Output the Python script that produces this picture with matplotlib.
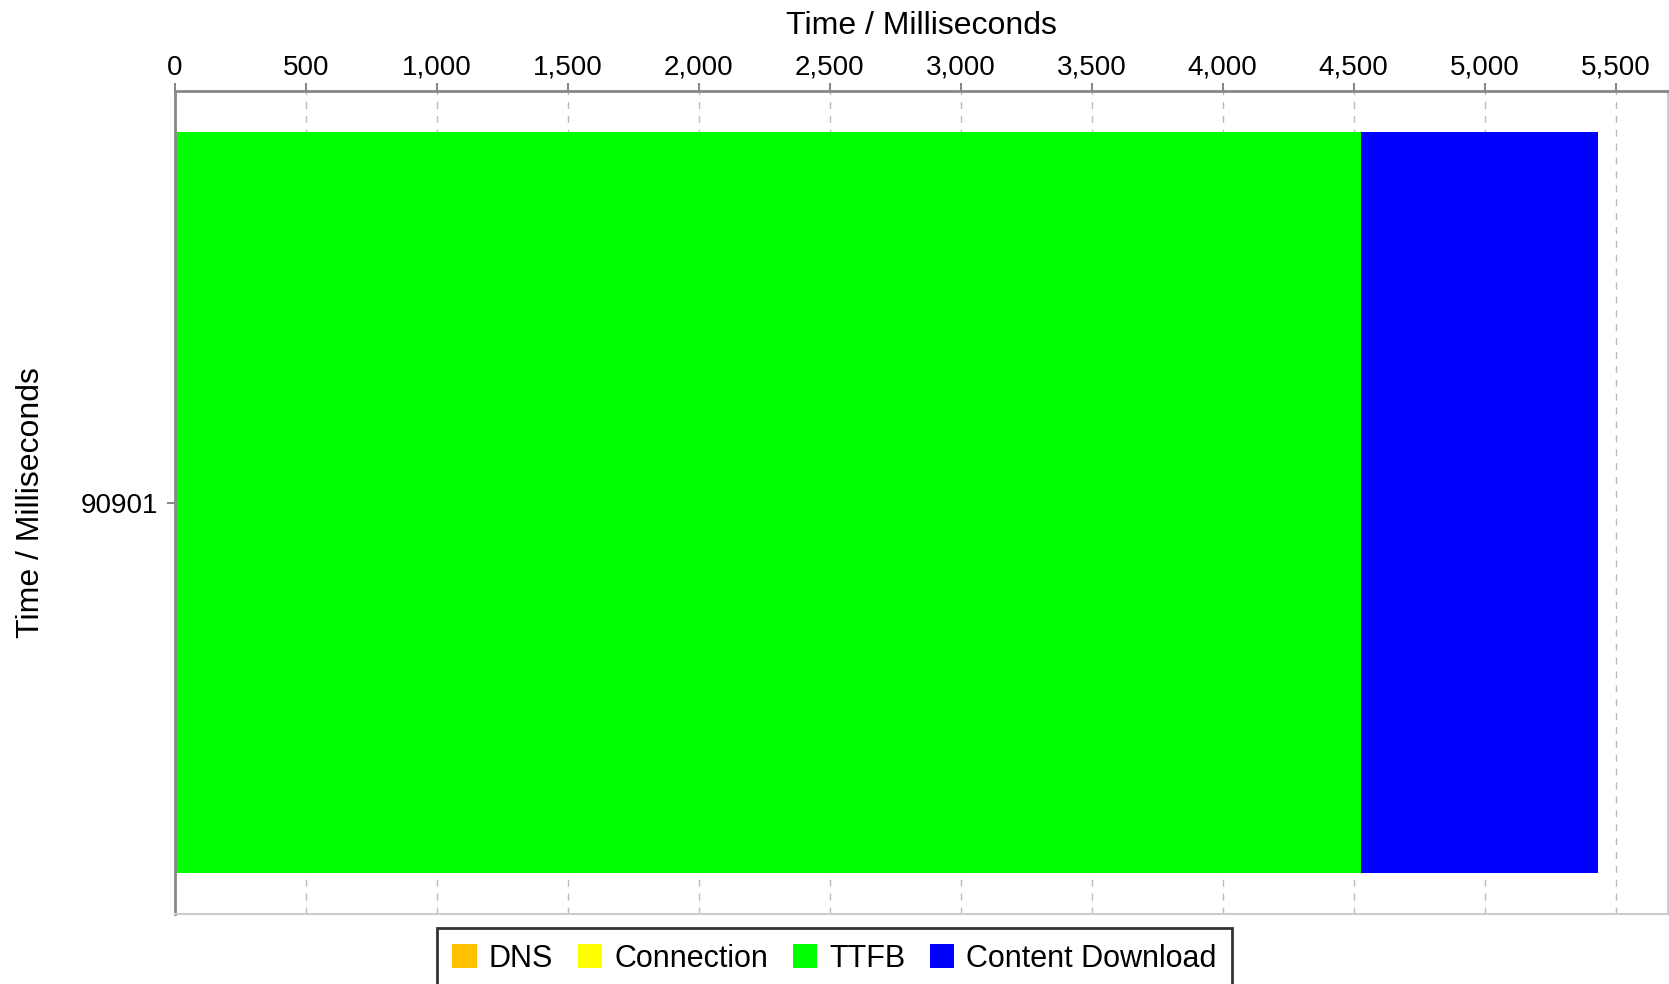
import matplotlib.pyplot as plt
from matplotlib.ticker import FuncFormatter, MultipleLocator
from matplotlib.patches import Patch
from matplotlib import font_manager

plt.rcParams['font.family'] = ['Liberation Sans', 'DejaVu Sans']

# data
requests = ['90901']
phases = ['DNS', 'Connection', 'TTFB', 'Content Download']
durations = [0, 0, 4529, 905]
colors = ['#FFC000', '#FFFF00', '#00FF00', '#0000FF']

fig = plt.figure(figsize=(16.69, 9.84), dpi=100)
ax = fig.add_axes([0.1049, 0.0711, 0.8945, 0.8364])

left = 0
for name, d, c in zip(phases, durations, colors):
    ax.barh(requests, [d], left=left, height=0.9, color=c, label=name)
    left += d

ax.set_xlim(0, 5700)
ax.set_ylim(-0.5, 0.5)
ax.xaxis.set_major_locator(MultipleLocator(500))
ax.xaxis.set_major_formatter(FuncFormatter(lambda v, p: f'{int(v):,}'))
ax.xaxis.tick_top()
ax.xaxis.set_label_position('top')
ax.set_xlabel('Time / Milliseconds', fontsize=23, labelpad=15)
ax.set_ylabel('Time / Milliseconds', fontsize=23, labelpad=25)
ax.tick_params(axis='x', labelsize=20, color='#888888', length=6, width=1.5, pad=1.5)
ax.tick_params(axis='y', labelsize=20, color='#888888', length=6, width=1.5, pad=6)

ax.grid(axis='x', color='#bbbbbb', linestyle=(0, (5, 5)), linewidth=1)
ax.set_axisbelow(True)
for s in ['top', 'left']:
    ax.spines[s].set_color('#888888')
    ax.spines[s].set_linewidth(2)
for s in ['bottom', 'right']:
    ax.spines[s].set_color('#cccccc')
    ax.spines[s].set_linewidth(1.5)

# legend font: narrow if available
names = {f.name for f in font_manager.fontManager.ttflist}
lfam = ['Liberation Sans Narrow'] if 'Liberation Sans Narrow' in names else ['Liberation Sans']
handles = [Patch(facecolor=c, edgecolor='none', label=n) for n, c in zip(phases, colors)]
leg = fig.legend(handles=handles, loc='upper center', bbox_to_anchor=(0.5, 0.072),
                 ncol=4, frameon=True, fancybox=False, edgecolor='black',
                 prop={'family': lfam, 'size': 22}, handlelength=0.8, handleheight=0.8,
                 handletextpad=0.4, columnspacing=0.8, borderpad=0.5)
leg.get_frame().set_linewidth(2)

fig.savefig('out.png', dpi=100)
